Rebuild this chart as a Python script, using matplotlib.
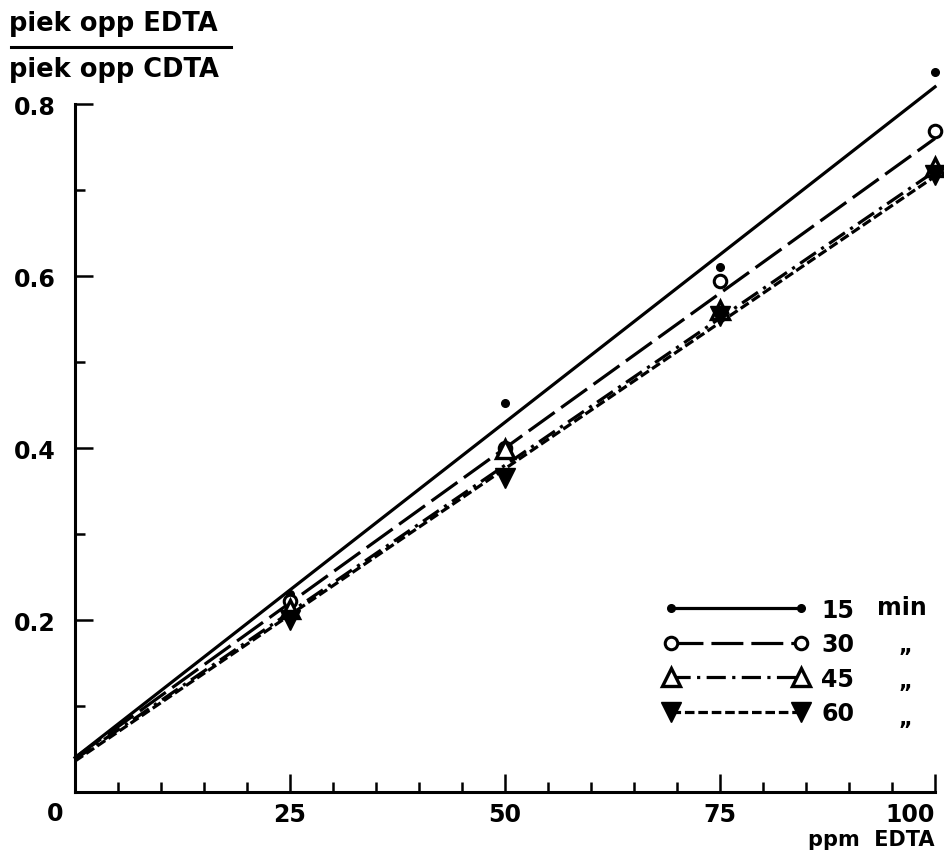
import matplotlib
matplotlib.use("Agg")
import matplotlib.pyplot as plt
import numpy as np

plt.rcParams['font.family'] = 'DejaVu Sans'
plt.rcParams['font.weight'] = 'bold'

# measured points (ppm EDTA vs peak area ratio)
ppm = [25, 50, 75, 100]
r15 = [0.23, 0.452, 0.610, 0.837]
r30 = [0.222, 0.400, 0.594, 0.769]
r45 = [0.213, 0.399, 0.560, 0.727]
r60 = [0.200, 0.365, 0.553, 0.718]

# fitted straight lines, read at 0 and 100 ppm
fit_x = [0, 100]
fit15 = [0.040, 0.820]
fit30 = [0.040, 0.760]
fit45 = [0.038, 0.722]
fit60 = [0.036, 0.716]

labels = ["15", "30", "45", "60"]

fig = plt.figure(figsize=(9.44, 8.54), dpi=100)
ax = fig.add_axes([0.0795, 0.0714, 0.911, 0.8056])

styles = [
    dict(ls='-', marker='o', ms=5.5, mfc='black', mew=1),
    dict(ls=(0, (10, 2.5)), marker='o', ms=9, mfc='white', mew=2.2),
    dict(ls=(0, (6, 2, 1, 2)), marker='^', ms=13, mfc='white', mew=2.4),
    dict(ls=(0, (3, 1.2)), marker='v', ms=14, mfc='black', mew=1),
]
points = [r15, r30, r45, r60]
fits = [fit15, fit30, fit45, fit60]

handles = []
for pts, fit, st, lab in zip(points, fits, styles, labels):
    ax.plot(fit_x, fit, color='black', lw=2.3, ls=st['ls'], clip_on=False)
    ax.plot(ppm, pts, ls='none', marker=st['marker'], ms=st['ms'],
            mfc=st['mfc'], mec='black', mew=st['mew'], clip_on=False, zorder=5)
    h, = ax.plot([], [], color='black', lw=2.3, ls=st['ls'], marker=st['marker'],
                 ms=st['ms'], mfc=st['mfc'], mec='black', mew=st['mew'])
    handles.append(h)

leg = ax.legend(handles, labels, loc='upper left', bbox_to_anchor=(0.691, 0.313),
                bbox_transform=fig.transFigure, frameon=False, numpoints=2,
                handlelength=6.1, handletextpad=0.55, labelspacing=0.45,
                fontsize=17, borderpad=0)

fig.text(0.929, 0.288, "min", fontsize=17, ha='left', va='center')
for yy in [0.244, 0.201, 0.158]:
    fig.text(0.952, yy, "„", fontsize=15, ha='left', va='center')

ax.set_xlim(0, 100)
ax.set_ylim(0, 0.8)
ax.spines['top'].set_visible(False)
ax.spines['right'].set_visible(False)
ax.spines['left'].set_linewidth(2.2)
ax.spines['bottom'].set_linewidth(2.2)

ax.set_xticks([25, 50, 75, 100])
ax.set_xticks(np.arange(5, 100, 5), minor=True)
ax.set_xticklabels(["25", "50", "75", "100"])
ax.set_yticks([0.2, 0.4, 0.6, 0.8])
ax.set_yticks([0.1, 0.3, 0.5, 0.7], minor=True)
ax.set_yticklabels(["0.2", "0.4", "0.6", "0.8"])
ax.tick_params(axis='both', which='major', direction='in', length=13, width=1.8,
               labelsize=17, pad=7)
ax.tick_params(axis='both', which='minor', direction='in', length=7, width=1.8)
ax.tick_params(axis='y', which='major', pad=14)
ax.get_xticklabels()[-1].set_ha('right')

fig.text(0.058, 0.047, "0", fontsize=17, ha='center', va='center')
fig.text(0.99, 0.016, "ppm  EDTA", fontsize=15, ha='right', va='center')

fig.text(0.010, 0.972, "piek opp EDTA", fontsize=18.5, ha='left', va='center')
fig.add_artist(plt.Line2D([0.012, 0.245], [0.944, 0.944], color='black', lw=2.2,
                          transform=fig.transFigure))
fig.text(0.010, 0.918, "piek opp CDTA", fontsize=18.5, ha='left', va='center')

fig.savefig("out.png", dpi=100)
